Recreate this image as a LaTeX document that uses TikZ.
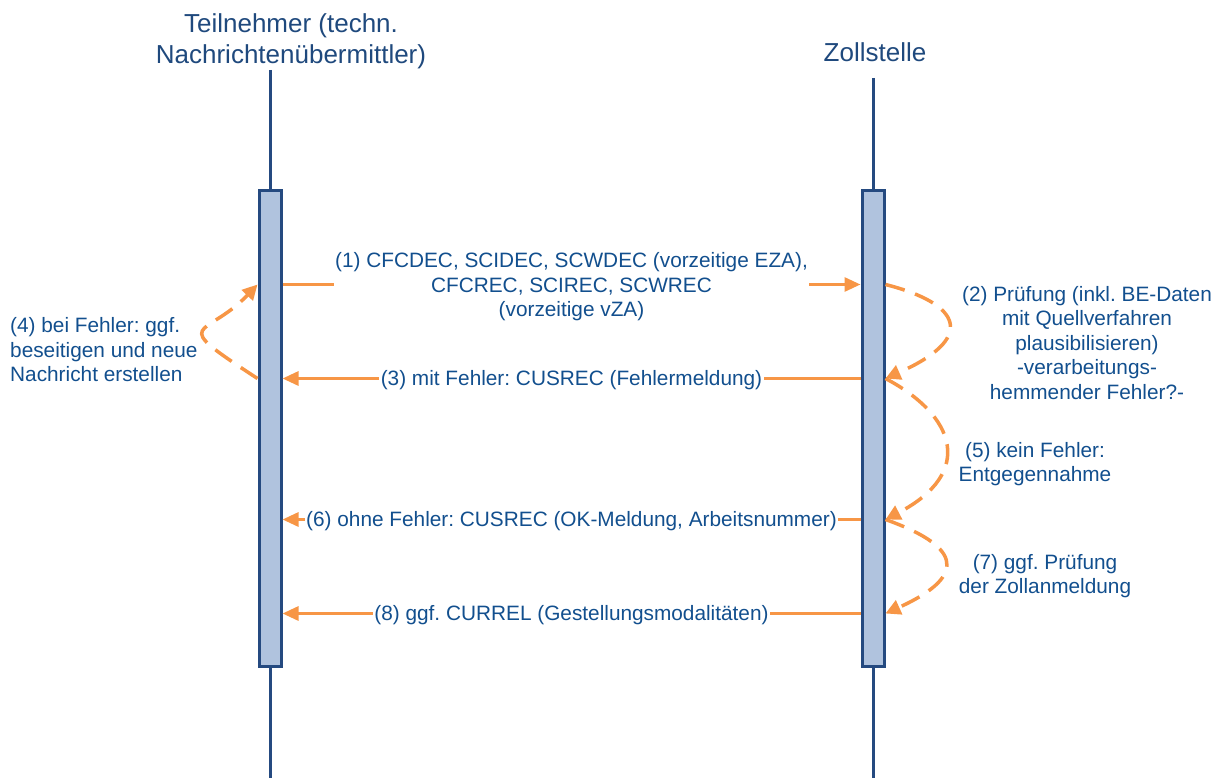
\documentclass[tikz,border=0pt]{standalone}
\usepackage{fontspec}
\setmainfont{Liberation Sans}
\usetikzlibrary{arrows.meta}
\definecolor{orng}{HTML}{F79646}
\definecolor{lifeblue}{HTML}{254A80}
\definecolor{boxfill}{HTML}{B0C3DE}
\definecolor{titleblue}{HTML}{1F497D}
\definecolor{textblue}{HTML}{124F8E}
\frenchspacing
\begin{document}
\begin{tikzpicture}[x=1pt,y=-1pt,
  life/.style={draw=lifeblue, line width=3pt},
  actbox/.style={draw=lifeblue, fill=boxfill, line width=3pt, minimum width=22pt, minimum height=476pt, inner sep=0pt},
  msg/.style={draw=orng, line width=3pt, -{Triangle[length=16pt,width=14pt]}},
  selfmsg/.style={draw=orng, line width=3.5pt, dash pattern=on 20pt off 11pt, -{Triangle[length=15pt,width=15pt]}},
  lbl/.style={font=\fontsize{20.8}{24.5}\selectfont, text=textblue, fill=white, inner xsep=1.5pt, inner ysep=0pt, align=center},
  note/.style={font=\fontsize{20.8}{24.5}\selectfont, text=textblue, inner sep=0pt},
  ttl/.style={font=\fontsize{26}{31}\selectfont, text=titleblue, inner sep=0pt, align=center}]
\useasboundingbox (0,0) rectangle (1223,778);

% titles
\node[ttl] (tL) at (291,41) {Teilnehmer (techn.\\Nachrichtenübermittler)};
\node[ttl] (tR) at (875,52) {Zollstelle};

% lifelines
\coordinate (Ltop) at (270,70);
\coordinate (Lbot) at (270,778);
\coordinate (Rtop) at (873,78);
\coordinate (Rbot) at (873,778);
\draw[life] (Ltop) -- (Lbot);
\draw[life] (Rtop) -- (Rbot);

% activation boxes
\node[actbox] (boxL) at (270,428.5) {};
\node[actbox] (boxR) at (873,428.5) {};

% message levels
\coordinate (m1) at (0,284.5);
\coordinate (m3) at (0,378.5);
\coordinate (m6) at (0,519.5);
\coordinate (m8) at (0,613.5);

% messages
\draw[msg] (boxL.east |- m1) -- (boxR.west |- m1);
\node[lbl] (lab1) at (571.5,287) {(1) CFCDEC, SCIDEC, SCWDEC (vorzeitige EZA),\\CFCREC, SCIREC, SCWREC\\(vorzeitige vZA)};
\draw[msg] (boxR.west |- m3) -- node[lbl, yshift=-2pt] (lab3) {(3) mit Fehler: CUSREC (Fehlermeldung)} (boxL.east |- m3);
\draw[msg] (boxR.west |- m6) -- node[lbl, yshift=-2pt] (lab6) {(6) ohne Fehler: CUSREC (OK-Meldung, Arbeitsnummer)} (boxL.east |- m6);
\draw[msg] (boxR.west |- m8) -- node[lbl, yshift=-2pt] (lab8) {(8) ggf. CURREL (Gestellungsmodalitäten)} (boxL.east |- m8);

% self loops
\draw[selfmsg] (boxR.east |- m1) .. controls +(78,20) and +(90,-40) .. (boxR.east |- m3);
\draw[selfmsg] (boxR.east |- m3) .. controls +(70,37) and +(90,-47) .. (boxR.east |- m6);
\draw[selfmsg] (boxR.east |- m6) .. controls +(70,25) and +(88,-40) .. (boxR.east |- m8);
\draw[selfmsg] (boxL.west |- m3) .. controls +(-92,-60) and +(-52,55) .. (boxL.west |- m1);

% notes
\node[note, align=center] (n2) at (1087,343) {(2) Prüfung (inkl. BE-Daten\\mit Quellverfahren\\plausibilisieren)\\-verarbeitungs-\\hemmender Fehler?-};
\node[note, align=left, anchor=west] (n4) at (10,350) {(4) bei Fehler: ggf.\\beseitigen und neue\\Nachricht erstellen};
\node[note, align=center] (n5) at (1035,464) {(5) kein Fehler:\\Entgegennahme};
\node[note, align=center] (n7) at (1045,576) {(7) ggf. Prüfung\\der Zollanmeldung};
\end{tikzpicture}
\end{document}
